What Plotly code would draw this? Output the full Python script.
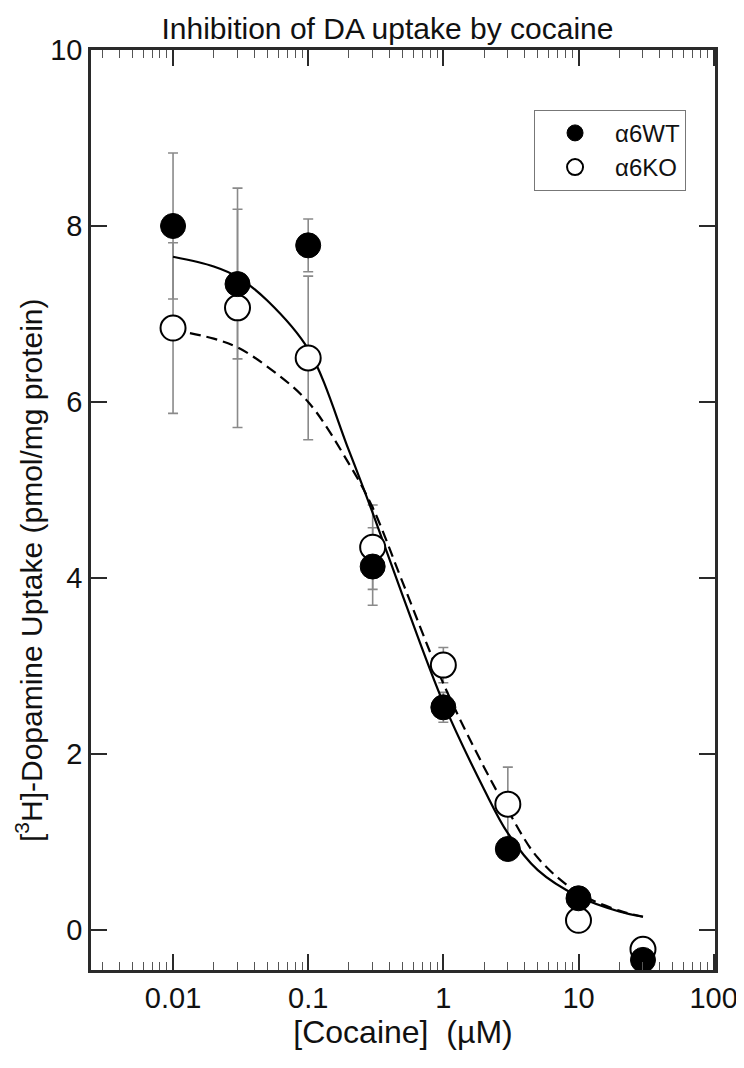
import plotly.graph_objects as go

# ---- data ----
conc = [0.01, 0.03, 0.1, 0.3, 1, 3, 10, 30]
wt_mean = [8.00, 7.34, 7.78, 4.13, 2.53, 0.92, 0.36, -0.34]
wt_sd = [0.83, 0.85, 0.30, 0.44, 0.17, 0.05, 0.05, 0.05]
ko_mean = [6.84, 7.07, 6.50, 4.35, 3.01, 1.43, 0.11, -0.22]
ko_sd = [0.97, 1.36, 0.93, 0.48, 0.20, 0.42, 0.05, 0.05]

fit_x = [0.01, 0.02, 0.03, 0.05, 0.1, 0.2, 0.3, 0.5, 1, 2, 3, 5, 10, 20, 30]
wt_fit = [7.65, 7.54, 7.42, 7.15, 6.60, 5.45, 4.74, 3.80, 2.58, 1.60, 1.10, 0.68, 0.38, 0.21, 0.15]
ko_fit = [6.82, 6.72, 6.62, 6.40, 6.00, 5.30, 4.80, 3.95, 2.80, 1.85, 1.36, 0.82, 0.42, 0.22, 0.15]

x_tickvals = [0.01, 0.1, 1, 10, 100]
x_ticktext = ["0.01", "0.1", "1", "10", "100"]
y_tickvals = [0, 2, 4, 6, 8, 10]

FONT = "Liberation Sans, Arial, Helvetica, sans-serif"
ERR = "#8a8a8a"
AX = "#2a2a2a"
TXT = "#111111"

fig = go.Figure()

# error bars (under everything)
for mean, sd in ((ko_mean, ko_sd), (wt_mean, wt_sd)):
    fig.add_trace(go.Scatter(
        x=conc, y=mean, mode="markers",
        marker=dict(size=1, opacity=0),
        error_y=dict(type="data", array=sd, visible=True, color=ERR, thickness=1.6, width=5),
        showlegend=False, hoverinfo="skip"))

# fitted curves
fig.add_trace(go.Scatter(x=fit_x, y=wt_fit, mode="lines",
                         line=dict(color="black", width=2.2, shape="spline"), showlegend=False))
fig.add_trace(go.Scatter(x=fit_x, y=ko_fit, mode="lines",
                         line=dict(color="black", width=2.2, dash="11px,6px", shape="spline"), showlegend=False))

# markers
fig.add_trace(go.Scatter(x=conc, y=ko_mean, mode="markers", name="α6KO", cliponaxis=False,
                         marker=dict(size=25, color="white", line=dict(color="black", width=2))))
fig.add_trace(go.Scatter(x=conc, y=wt_mean, mode="markers", name="α6WT", cliponaxis=False,
                         marker=dict(size=25, color="black", line=dict(color="black", width=1))))

minor_vals = [m * 10 ** e for e in range(-3, 2) for m in range(2, 10)]

fig.update_xaxes(
    type="log", range=[-2.607, 2.01],
    tickmode="array", tickvals=x_tickvals, ticktext=x_ticktext,
    ticks="inside", ticklen=16, tickwidth=1.5, tickcolor=AX,
    minor=dict(tickmode="array", tickvals=minor_vals, ticks="inside", ticklen=8, tickwidth=1, tickcolor="#555"),
    showline=True, linewidth=2.5, linecolor=AX, mirror="ticks",
    showgrid=False, zeroline=False,
    tickfont=dict(family=FONT, size=29, color=TXT),
    title=dict(text="[Cocaine]\u00a0\u00a0(µM)", font=dict(family=FONT, size=32, color=TXT), standoff=8),
)
fig.update_yaxes(
    range=[-0.455, 10],
    tickmode="array", tickvals=y_tickvals,
    ticks="inside", ticklen=16, tickwidth=1.5, tickcolor=AX,
    showline=True, linewidth=2.5, linecolor=AX, mirror="ticks",
    showgrid=False, zeroline=False,
    tickfont=dict(family=FONT, size=29, color=TXT),
)

fig.add_annotation(
    text="[<sup>3</sup>H]-Dopamine Uptake (pmol/mg protein)", textangle=-90,
    xref="paper", yref="paper", x=-0.099, y=0.435, xanchor="center", yanchor="middle",
    showarrow=False, font=dict(family=FONT, size=30, color=TXT))

fig.update_layout(
    width=744, height=1068,
    margin=dict(l=83, r=37, t=42, b=106),
    paper_bgcolor="white", plot_bgcolor="white",
    title=dict(text="Inhibition of DA uptake by cocaine", x=0.51, xanchor="center",
               y=0.981, yanchor="middle", yref="container",
               font=dict(family=FONT, size=30, color=TXT)),
    legend=dict(x=0.71, y=0.935, xanchor="left", yanchor="top", bordercolor="#777", borderwidth=1,
                bgcolor="white", font=dict(family=FONT, size=24, color=TXT), traceorder="reversed",
                itemsizing="trace", itemwidth=70),
    showlegend=True,
)

fig.write_html("out.html")
